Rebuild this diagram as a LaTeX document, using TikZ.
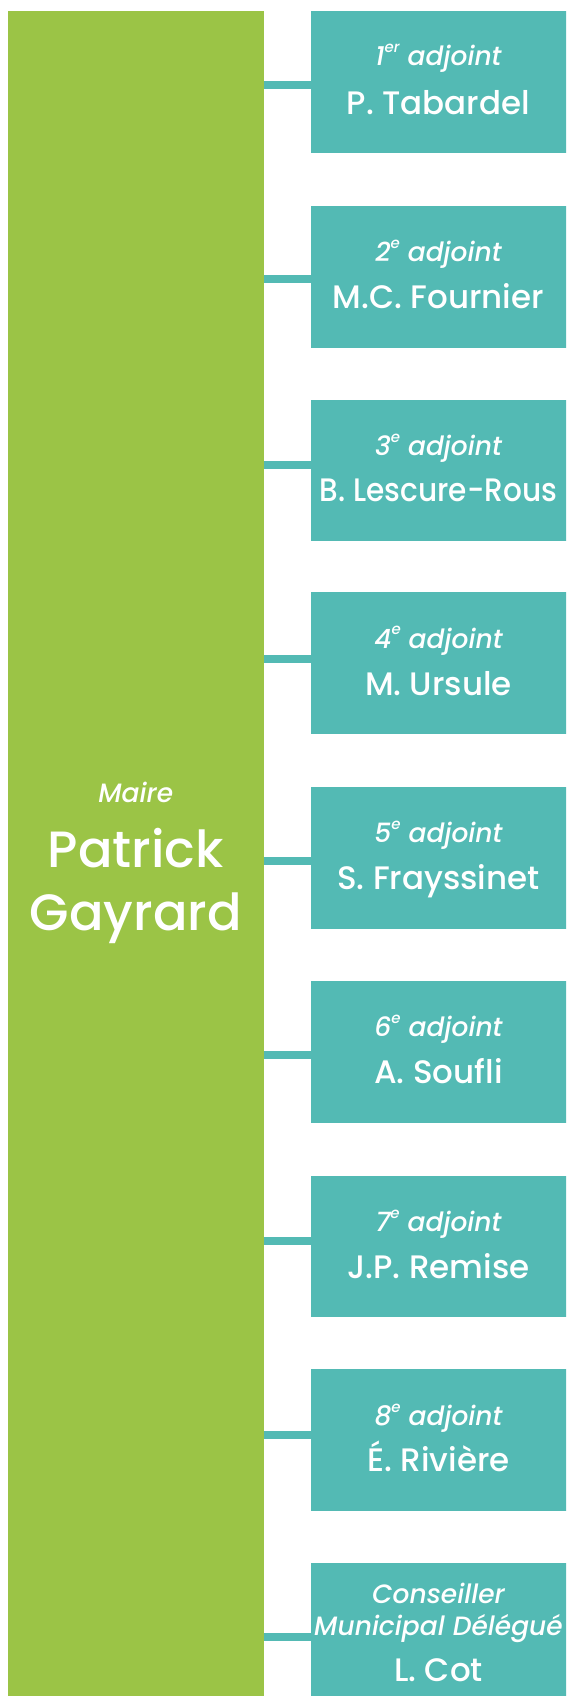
\documentclass[tikz,border=0pt]{standalone}
\usepackage{fontspec}
\setmainfont{Poppins}
\newfontfamily\rolefont{Poppins Medium Italic}
\newfontfamily\namefont{Poppins Medium}
\newfontfamily\bigfont{Poppins Medium}
\definecolor{mairegreen}{RGB}{155,196,70}
\definecolor{adjteal}{RGB}{83,186,180}
\newcommand\ordsup[1]{\raisebox{0.5em}{\fontsize{15}{15}\selectfont #1}}
\tikzset{
  mairebox/.style={fill=mairegreen, draw=none, inner sep=0pt, anchor=north west, minimum width=256.4pt, minimum height=1690pt},
  adjbox/.style={fill=adjteal, draw=none, inner sep=0pt, anchor=north west, minimum width=260pt, minimum height=141.8pt},
  conn/.style={draw=adjteal, line width=8.5pt},
  roletext/.style={anchor=base, inner sep=0pt, text=white, font=\rolefont\fontsize{26.5}{28}\selectfont},
  nametext/.style={anchor=base, inner sep=0pt, text=white, font=\namefont\fontsize{32.5}{34}\selectfont},
  bigtext/.style={anchor=base, inner sep=0pt, text=white, font=\bigfont\fontsize{51}{54}\selectfont}
}
\begin{document}
\begin{tikzpicture}[x=1pt,y=-1pt]
\useasboundingbox (0,0) rectangle (566,1696);
\fill[white] (0,0) rectangle (566,1696);
\clip (0,0) rectangle (566,1696);
\node[mairebox] (maire) at (7.6,10.8) {};
\node[roletext] (mrole) at (135.8,802.7) {Maire};
\node[bigtext] (mname1) at (135.8,867.3) {Patrick};
\node[bigtext] (mname2) at (135.8,930.7) {Gayrard};
% adjoint boxes
\foreach \i/\top/\cy in {1/10.8/85, 2/205.6/279, 3/399.3/465, 4/592/659, 5/786.8/861, 6/980.5/1055, 7/1175.3/1241, 8/1369/1435, 9/1562.7/1637} {
  \node[adjbox] (b\i) at (310.6,\top) {};
  \coordinate (k\i) at (310.6,\cy);
  \draw[conn] (maire.east |- k\i) -- (k\i);
}
\node[roletext] (r1) at (438.5,66.0) {1\ordsup{er} adjoint};
\node[nametext] (n1) at (438.5,114.5) {P. Tabardel};
\node[roletext] (r2) at (438.5,261.7) {2\ordsup{e} adjoint};
\node[nametext] (n2) at (438.5,308.3) {M.C. Fournier};
\node[roletext] (r3) at (438.5,455.3) {3\ordsup{e} adjoint};
\node[nametext] (n3) at (438.5,501.7) {\scalebox{0.91}[1]{B. Lescure-Rous}};
\node[roletext] (r4) at (438.5,648) {4\ordsup{e} adjoint};
\node[nametext] (n4) at (438.5,695.5) {M. Ursule};
\node[roletext] (r5) at (438.5,842.7) {5\ordsup{e} adjoint};
\node[nametext] (n5) at (438.5,889.5) {S. Frayssinet};
\node[roletext] (r6) at (438.5,1036.5) {6\ordsup{e} adjoint};
\node[nametext] (n6) at (438.5,1083.5) {A. Soufli};
\node[roletext] (r7) at (438.5,1231.3) {7\ordsup{e} adjoint};
\node[nametext] (n7) at (438.5,1278) {J.P. Remise};
\node[roletext] (r8) at (438.5,1425.7) {8\ordsup{e} adjoint};
\node[nametext] (n8) at (438.5,1471.7) {É. Rivière};
\node[roletext] (r9a) at (438.5,1603) {Conseiller};
\node[roletext] (r9b) at (438.5,1635.7) {Municipal Délégué};
\node[nametext] (n9) at (438.5,1681.7) {L. Cot};
\end{tikzpicture}
\end{document}
